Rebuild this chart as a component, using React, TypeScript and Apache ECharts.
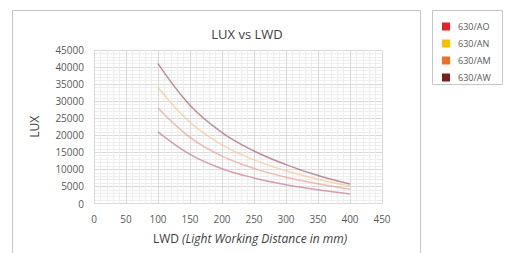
import React, { useEffect, useRef } from "react";
import * as echarts from "echarts";

const lwd = [100, 150, 200, 250, 300, 350, 400];
const seriesNames = ["630/AO", "630/AN", "630/AM", "630/AW"];
const legendColors = ["#e8202a", "#fbbd00", "#ee7023", "#7b1f1a"];
const lineColors = ["#c87890", "#f2c890", "#e8a090", "#a86070"];
const luxAO = [21000, 14400, 10200, 7500, 5500, 4000, 2800];
const luxAN = [34000, 23800, 17200, 12800, 9600, 7100, 5100];
const luxAM = [28000, 19400, 13900, 10300, 7700, 5800, 4200];
const luxAW = [41000, 28800, 20800, 15400, 11400, 8200, 5700];
const xTicks = { min: 0, max: 450, interval: 50 };
const yTicks = { min: 0, max: 45000, interval: 5000 };

const FONT = "'Open Sans', 'Noto Sans', sans-serif";

export default function App() {
  const ref = useRef<HTMLDivElement>(null);
  useEffect(() => {
    if (!ref.current) return;
    const chart = echarts.init(ref.current, null, { renderer: "svg" });
    const allLux = [luxAO, luxAN, luxAM, luxAW];
    chart.setOption({
      animation: false,
      backgroundColor: "#ffffff",
      title: {
        text: "LUX vs LWD",
        left: 242,
        top: 22,
        textAlign: "center",
        textStyle: { fontFamily: FONT, fontSize: 13, fontWeight: "normal", color: "#404040" },
      },
      graphic: [
        {
          type: "rect",
          shape: { x: 12.5, y: 10.5, width: 408, height: 260 },
          style: { fill: "none", stroke: "#c6c6c6", lineWidth: 1 },
          z: -1,
        },
        {
          type: "rect",
          shape: { x: 432.5, y: 10.5, width: 70, height: 74 },
          style: { fill: "none", stroke: "#c6c6c6", lineWidth: 1 },
          z: -1,
        },
        {
          type: "text",
          x: 250,
          y: 238,
          style: {
            text: "{a|LWD }{b|(Light Working Distance in mm)}",
            align: "center",
            verticalAlign: "middle",
            rich: {
              a: { fontFamily: FONT, fontSize: 12, fill: "#404040" },
              b: { fontFamily: FONT, fontSize: 12, fill: "#404040", fontStyle: "italic" },
            },
          },
        },
      ],
      legend: {
        orient: "vertical",
        left: 437,
        top: 17,
        icon: "rect",
        itemWidth: 8,
        itemHeight: 8,
        itemGap: 8,
        data: seriesNames,
        textStyle: { fontFamily: FONT, fontSize: 9, color: "#595959", padding: [0, 0, 0, 3] },
      },
      grid: { left: 94, right: 123, top: 50, bottom: 49.5 },
      xAxis: {
        type: "value",
        min: xTicks.min,
        max: xTicks.max,
        interval: xTicks.interval,
        axisLine: { show: false },
        axisTick: { show: false },
        axisLabel: { fontFamily: FONT, fontSize: 10, color: "#595959", margin: 10 },
        splitLine: { show: true, lineStyle: { color: "#dadada", width: 1 } },
        minorTick: { show: false, splitNumber: 5 },
        minorSplitLine: { show: true, lineStyle: { color: "#eeeeee", width: 1 } },
      },
      yAxis: {
        type: "value",
        min: yTicks.min,
        max: yTicks.max,
        interval: yTicks.interval,
        name: "LUX",
        nameLocation: "middle",
        nameGap: 54,
        nameTextStyle: { fontFamily: FONT, fontSize: 12, color: "#404040" },
        axisLine: { show: false },
        axisTick: { show: false },
        axisLabel: {
          fontFamily: FONT,
          fontSize: 10,
          color: "#595959",
          margin: 10,
          formatter: (v: number) => String(v),
        },
        splitLine: { show: true, lineStyle: { color: "#dadada", width: 1 } },
        minorTick: { show: false, splitNumber: 5 },
        minorSplitLine: { show: true, lineStyle: { color: "#eeeeee", width: 1 } },
      },
      series: seriesNames.map((name, i) => ({
        name,
        type: "line",
        smooth: 0.4,
        showSymbol: false,
        itemStyle: { color: legendColors[i] },
        lineStyle: { color: lineColors[i], width: 1.5, opacity: 0.7 },
        data: lwd.map((x, j) => [x, allLux[i][j]]),
      })),
    });
    return () => chart.dispose();
  }, []);
  return (
    <div
      ref={ref}
      style={{ position: "fixed", left: 0, top: 0, width: 505, height: 253 }}
    />
  );
}
